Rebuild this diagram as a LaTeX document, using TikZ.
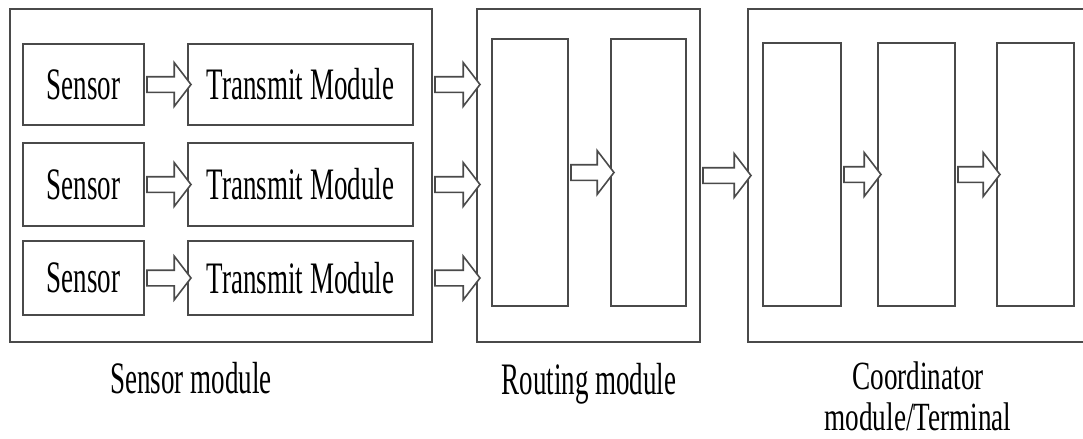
\documentclass[tikz,border=0pt]{standalone}
\usepackage{graphicx}
\usepackage{fontspec}
\setmainfont{Liberation Serif}
\usepackage{tikz}
\usetikzlibrary{shapes.arrows}
\usetikzlibrary{positioning}
\definecolor{linegray}{HTML}{4A4A4A}
\newcommand{\narrowtxt}[1]{\scalebox{0.6}[1]{#1}}
\newcommand{\widertxt}[1]{\scalebox{0.68}[1]{#1}}
\tikzset{blk/.style = {draw = linegray, line width = 0.9pt, fill = white, inner sep = 0}}
\tikzset{lbl/.style = {font = \fontsize{22.5}{19.5}\selectfont, align = center, inner sep = 0}}
\tikzset{harrow/.style = {single arrow, draw = linegray, line width = 0.8pt, fill = white,
    inner xsep = 0, inner ysep = 3.5pt, single arrow head extend = 7pt,
    single arrow tip angle = 105}}

\begin{document}
\begin{tikzpicture}[x = 0.5pt, y = -0.5pt]
      \useasboundingbox (0, 0) rectangle (1083, 439);
      % outer modules
      \node [blk, minimum width = 211pt, minimum height = 166.5pt] (sm) at (221, 175.5) {};
      \node [blk, minimum width = 111.5pt, minimum height = 166.5pt] (rm) at (588.5, 175.5) {};
      \node [blk, minimum width = 176pt, minimum height = 166.5pt] (cm) at (924, 175.5) {};
      % sensors and transmit modules
      \node [blk, lbl, minimum width = 60.5pt, minimum height = 40.5pt] (s1) at (83.5, 84.5) {\narrowtxt{Sensor}};
      \node [blk, lbl, minimum width = 60.5pt, minimum height = 41.5pt] (s2) at (83.5, 184.5) {\narrowtxt{Sensor}};
      \node [blk, lbl, minimum width = 60.5pt, minimum height = 37pt] (s3) at (83.5, 278) {\narrowtxt{Sensor}};
      \node [blk, lbl, minimum width = 112.5pt, minimum height = 40.5pt] (t1) at (300.5, 84.5) {\narrowtxt{Transmit Module}};
      \node [blk, lbl, minimum width = 112.5pt, minimum height = 41.5pt] (t2) at (300.5, 184.5) {\narrowtxt{Transmit Module}};
      \node [blk, lbl, minimum width = 112.5pt, minimum height = 37pt] (t3) at (300.5, 278) {\narrowtxt{Transmit Module}};
      % routing blocks
      \node [blk, minimum width = 38pt, minimum height = 133.5pt] (ra) at (530, 172.5) {};
      \node [blk, minimum width = 37.5pt, minimum height = 133.5pt] (rb) at (648.5, 172.5) {};
      % coordinator blocks
      \node [blk, minimum width = 39pt, minimum height = 131.5pt] (c1) at (802, 174.5) {};
      \node [blk, minimum width = 38.5pt, minimum height = 131.5pt] (c2) at (916.5, 174.5) {};
      \node [blk, minimum width = 38.5pt, minimum height = 131.5pt] (c3) at (1035.5, 174.5) {};
      % arrows
      \foreach \i in {1, 2, 3} {
        \path (s\i.east) -- (t\i.west) node [midway, harrow, minimum height = 22pt] {};
        \path (sm.east |- t\i.east) -- (rm.west |- t\i.west) node [midway, harrow, minimum height = 22.5pt] {};
      }
      \path (ra.east) -- (rb.west) node [midway, harrow, minimum height = 21.5pt] {};
      \path (rm.east) -- (cm.west) node [midway, harrow, minimum height = 24pt] {};
      \path (c1.east) -- (c2.west) node [midway, harrow, minimum height = 18.5pt] {};
      \path (c2.east) -- (c3.west) node [midway, harrow, minimum height = 21pt] {};
      % captions
      \node [lbl, anchor = base] (smlbl) at (191, 393) {\narrowtxt{Sensor module}};
      \node [lbl, anchor = base] (rmlbl) at (589, 394) {\narrowtxt{Routing module}};
      \node [lbl, font = \fontsize{20}{20.5}\selectfont] (cmlbl) at (918, 396) {\widertxt{Coordinator}\\\widertxt{module/Terminal}};
    \end{tikzpicture}
\end{document}
